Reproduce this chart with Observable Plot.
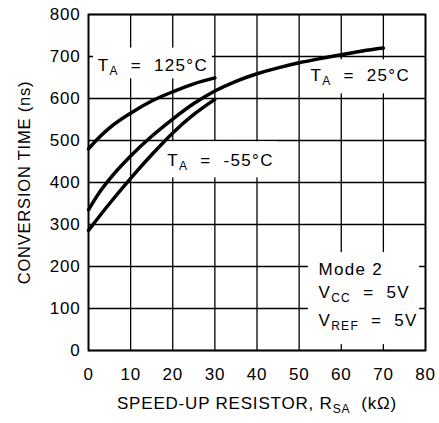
<!DOCTYPE html>
<html><head><meta charset="utf-8">
<script src="https://cdn.jsdelivr.net/npm/d3@7"></script>
<script src="https://cdn.jsdelivr.net/npm/@observablehq/plot@0.6"></script>
<style>
body{margin:0;background:#fff;}
#chart svg text{font-family:"Liberation Sans",Arial,sans-serif;white-space:pre;}
</style></head><body><div id="chart"></div>
<script>
// axis ticks
const xTicks = [0, 10, 20, 30, 40, 50, 60, 70, 80];
const yTicks = [0, 100, 200, 300, 400, 500, 600, 700, 800];

// series: speed-up resistor (kΩ) vs conversion time (ns)
const r125 = [0, 2.5, 5, 10, 15, 20, 25, 30];
const t125 = [480, 507, 530, 565, 594, 616, 635, 649];
const r25 = [0, 2.5, 5, 10, 15, 20, 25, 30, 35, 40, 45, 50, 55, 60, 65, 70];
const t25 = [335, 375, 408, 463, 510, 551, 588, 618, 641, 659, 673, 685, 695, 704, 713, 720];
const rM55 = [0, 5, 10, 15, 20, 25, 30];
const tM55 = [286, 350, 410, 466, 518, 562, 598];

// annotation texts and their anchor (data units)
const labelText = ["T_{A}  =  125°C", "T_{A}  =  -55°C", "T_{A}  =  25°C", "Mode 2", "V_{CC}  =  5V", "V_{REF}  =  5V"];
const labelX = [2.2, 18.7, 52.7, 54.6, 54.6, 54.6];
const labelY = [679, 452, 654, 192, 139, 71];

// white label backgrounds (data units)
const boxX1 = [1.2, 17.6, 51.5, 52.2];
const boxX2 = [29.4, 44.9, 77.2, 78.6];
const boxY1 = [647, 411, 611, 14];
const boxY2 = [720, 497, 692, 233];

const xTitle = "SPEED-UP RESISTOR, R_{SA}  (kΩ)";
const yTitle = "CONVERSION TIME (ns)";

const series = [
  ...r125.map((r, i) => ({s: "125", r, t: t125[i]})),
  ...r25.map((r, i) => ({s: "25", r, t: t25[i]})),
  ...rM55.map((r, i) => ({s: "-55", r, t: tM55[i]}))
];
const labels = labelText.map((t, i) => ({t, x: labelX[i], y: labelY[i]}));
const boxes = boxX1.map((x1, i) => ({x1, x2: boxX2[i], y1: boxY1[i], y2: boxY2[i]}));

const chart = Plot.plot({
  width: 439, height: 423,
  marginLeft: 88, marginRight: 14, marginTop: 14, marginBottom: 73,
  style: {fontSize: "17px", fontFamily: "Liberation Sans, Arial, sans-serif", color: "black", background: "white"},
  x: {domain: [0, 80]},
  y: {domain: [0, 800]},
  marks: [
    Plot.gridX(xTicks, {stroke: "black", strokeOpacity: 1, strokeWidth: 1.3}),
    Plot.gridY(yTicks, {stroke: "black", strokeOpacity: 1, strokeWidth: 1.3}),
    Plot.rect(boxes, {x1: "x1", x2: "x2", y1: "y1", y2: "y2", fill: "white"}),
    Plot.frame({stroke: "black", strokeWidth: 1.8}),
    Plot.axisX(xTicks, {tickSize: 0, tickPadding: 17, label: null, fontSize: 17}),
    Plot.axisY(yTicks, {tickSize: 0, tickPadding: 8, label: null, fontSize: 17}),
    Plot.line(series, {x: "r", y: "t", z: "s", stroke: "black", strokeWidth: 3.5, curve: "monotone-x"}),
    Plot.text(labels, {x: "x", y: "y", text: "t", textAnchor: "start", fontSize: 17, fill: "black", className: "lbl"}),
    Plot.text([xTitle], {frameAnchor: "bottom", dy: 58, fontSize: 17, fill: "black"}),
    Plot.text([yTitle], {frameAnchor: "left", dx: -64, rotate: -90, textAnchor: "middle", fontSize: 16.5, fill: "black"})
  ]
});

// render _{...} as subscripts
chart.querySelectorAll("text").forEach(t => {
  const s = t.textContent;
  if (!s.includes("_{")) return;
  t.textContent = "";
  const parts = s.split(/_\{([^}]*)\}/);
  let shifted = false;
  parts.forEach((p, i) => {
    if (!p) return;
    const sp = document.createElementNS("http://www.w3.org/2000/svg", "tspan");
    sp.textContent = p;
    if (i % 2 === 1) {
      sp.setAttribute("font-size", "12");
      sp.setAttribute("dy", "4");
      shifted = true;
    } else if (shifted) {
      sp.setAttribute("dy", "-4");
      shifted = false;
    }
    t.appendChild(sp);
  });
});
chart.querySelectorAll("text").forEach(t => t.style.letterSpacing = "0.8px");
chart.querySelectorAll("g.lbl text").forEach(t => t.style.letterSpacing = "1.3px");

document.getElementById("chart").appendChild(chart);
</script></body></html>
